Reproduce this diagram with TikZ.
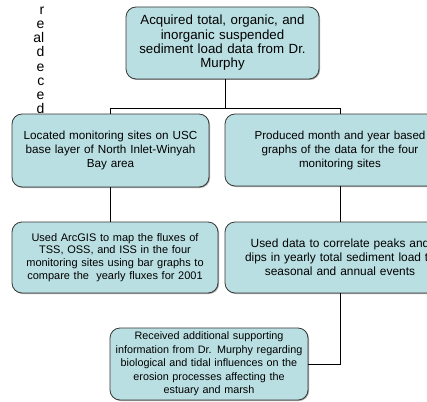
\documentclass[tikz,border=0pt]{standalone}
\usepackage{fontspec}
\setmainfont{Liberation Sans}
\usetikzlibrary{shadows}
\definecolor{boxfill}{RGB}{186,223,226}
\definecolor{boxline}{RGB}{55,55,55}
\begin{document}
\begin{tikzpicture}[x=1pt,y=-1pt,
  flow/.style={draw=boxline, fill=boxfill, rounded corners=10pt, line width=0.8pt,
    align=center, inner sep=0pt, font=\fontsize{11}{13.5}\selectfont,
    drop shadow={shadow xshift=1pt, shadow yshift=-1pt, opacity=0.35, fill=black}},
  conn/.style={draw=black, line width=0.8pt},
  frag/.style={anchor=base east, inner sep=0pt, font=\fontsize{14}{14}\selectfont}]
\useasboundingbox (0,0) rectangle (427,401);
\clip (0,0) rectangle (427,401);
% boxes
\node[flow, font=\fontsize{13.3}{14.3}\selectfont, minimum width=193pt, minimum height=72pt, text width=190pt] (top) at (222.5,43)
  {Acquired total, organic, and\\inorganic suspended\\sediment load data from Dr.\\Murphy};
\node[flow, font=\fontsize{11.7}{14}\selectfont, minimum width=197pt, minimum height=73pt, text width=194pt] (l1) at (110.5,150.5)
  {Located monitoring sites on USC\\base layer of North Inlet-Winyah\\Bay area};
\node[flow, font=\fontsize{11.6}{14}\selectfont, minimum width=196pt, minimum height=72pt, text width=230pt] (r1) at (340,150)
  {Produced month and year based\\graphs of the data for the four\\monitoring sites};
\node[flow, font=\fontsize{11}{12.8}\selectfont, minimum width=206pt, minimum height=71pt, text width=203pt] (l2) at (115,257.5)
  {Used ArcGIS to map the fluxes of\\TSS, OSS, and ISS in the four\\monitoring sites using bar graphs to\\compare the\ \ yearly fluxes for 2001};
\node[flow, font=\fontsize{11.9}{14}\selectfont, minimum width=196pt, minimum height=71pt, text width=230pt] (r2) at (340,257.5)
  {Used data to correlate peaks and\\dips in yearly total sediment load to\\seasonal and annual events};
\node[flow, font=\fontsize{10.8}{13.5}\selectfont, minimum width=198pt, minimum height=72pt, text width=195pt] (bot) at (209,364)
  {Received additional supporting\\information from Dr. Murphy regarding\\biological and tidal influences on the\\erosion processes affecting the\\estuary and marsh};
% clipped text fragments on the left
\node[frag] (f1) at (44.5,15) {r};
\node[frag] (f2) at (44.5,29) {e};
\node[frag] (f3) at (44.5,43) {al};
\node[frag] (f4) at (44.5,57) {d};
\node[frag] (f5) at (44.5,71.5) {e};
\node[frag] (f6) at (44.5,85.5) {c};
\node[frag] (f7) at (44.5,99.5) {e};
\node[frag] (f8) at (44.5,113.3) {d};
% connectors
\coordinate (bus) at (225,108);
\draw[conn] (top.south -| bus) -- (bus);
\draw[conn] (bus) -- (bus -| l1.north) -- (l1.north);
\draw[conn] (bus) -- (bus -| r1.north) -- (r1.north);
\draw[conn] (l1.south) -- (l1.south |- l2.north);
\draw[conn] (r1.south) -- (r2.north);
\draw[conn] (r2.south) |- (bot.east);
\end{tikzpicture}
\end{document}
